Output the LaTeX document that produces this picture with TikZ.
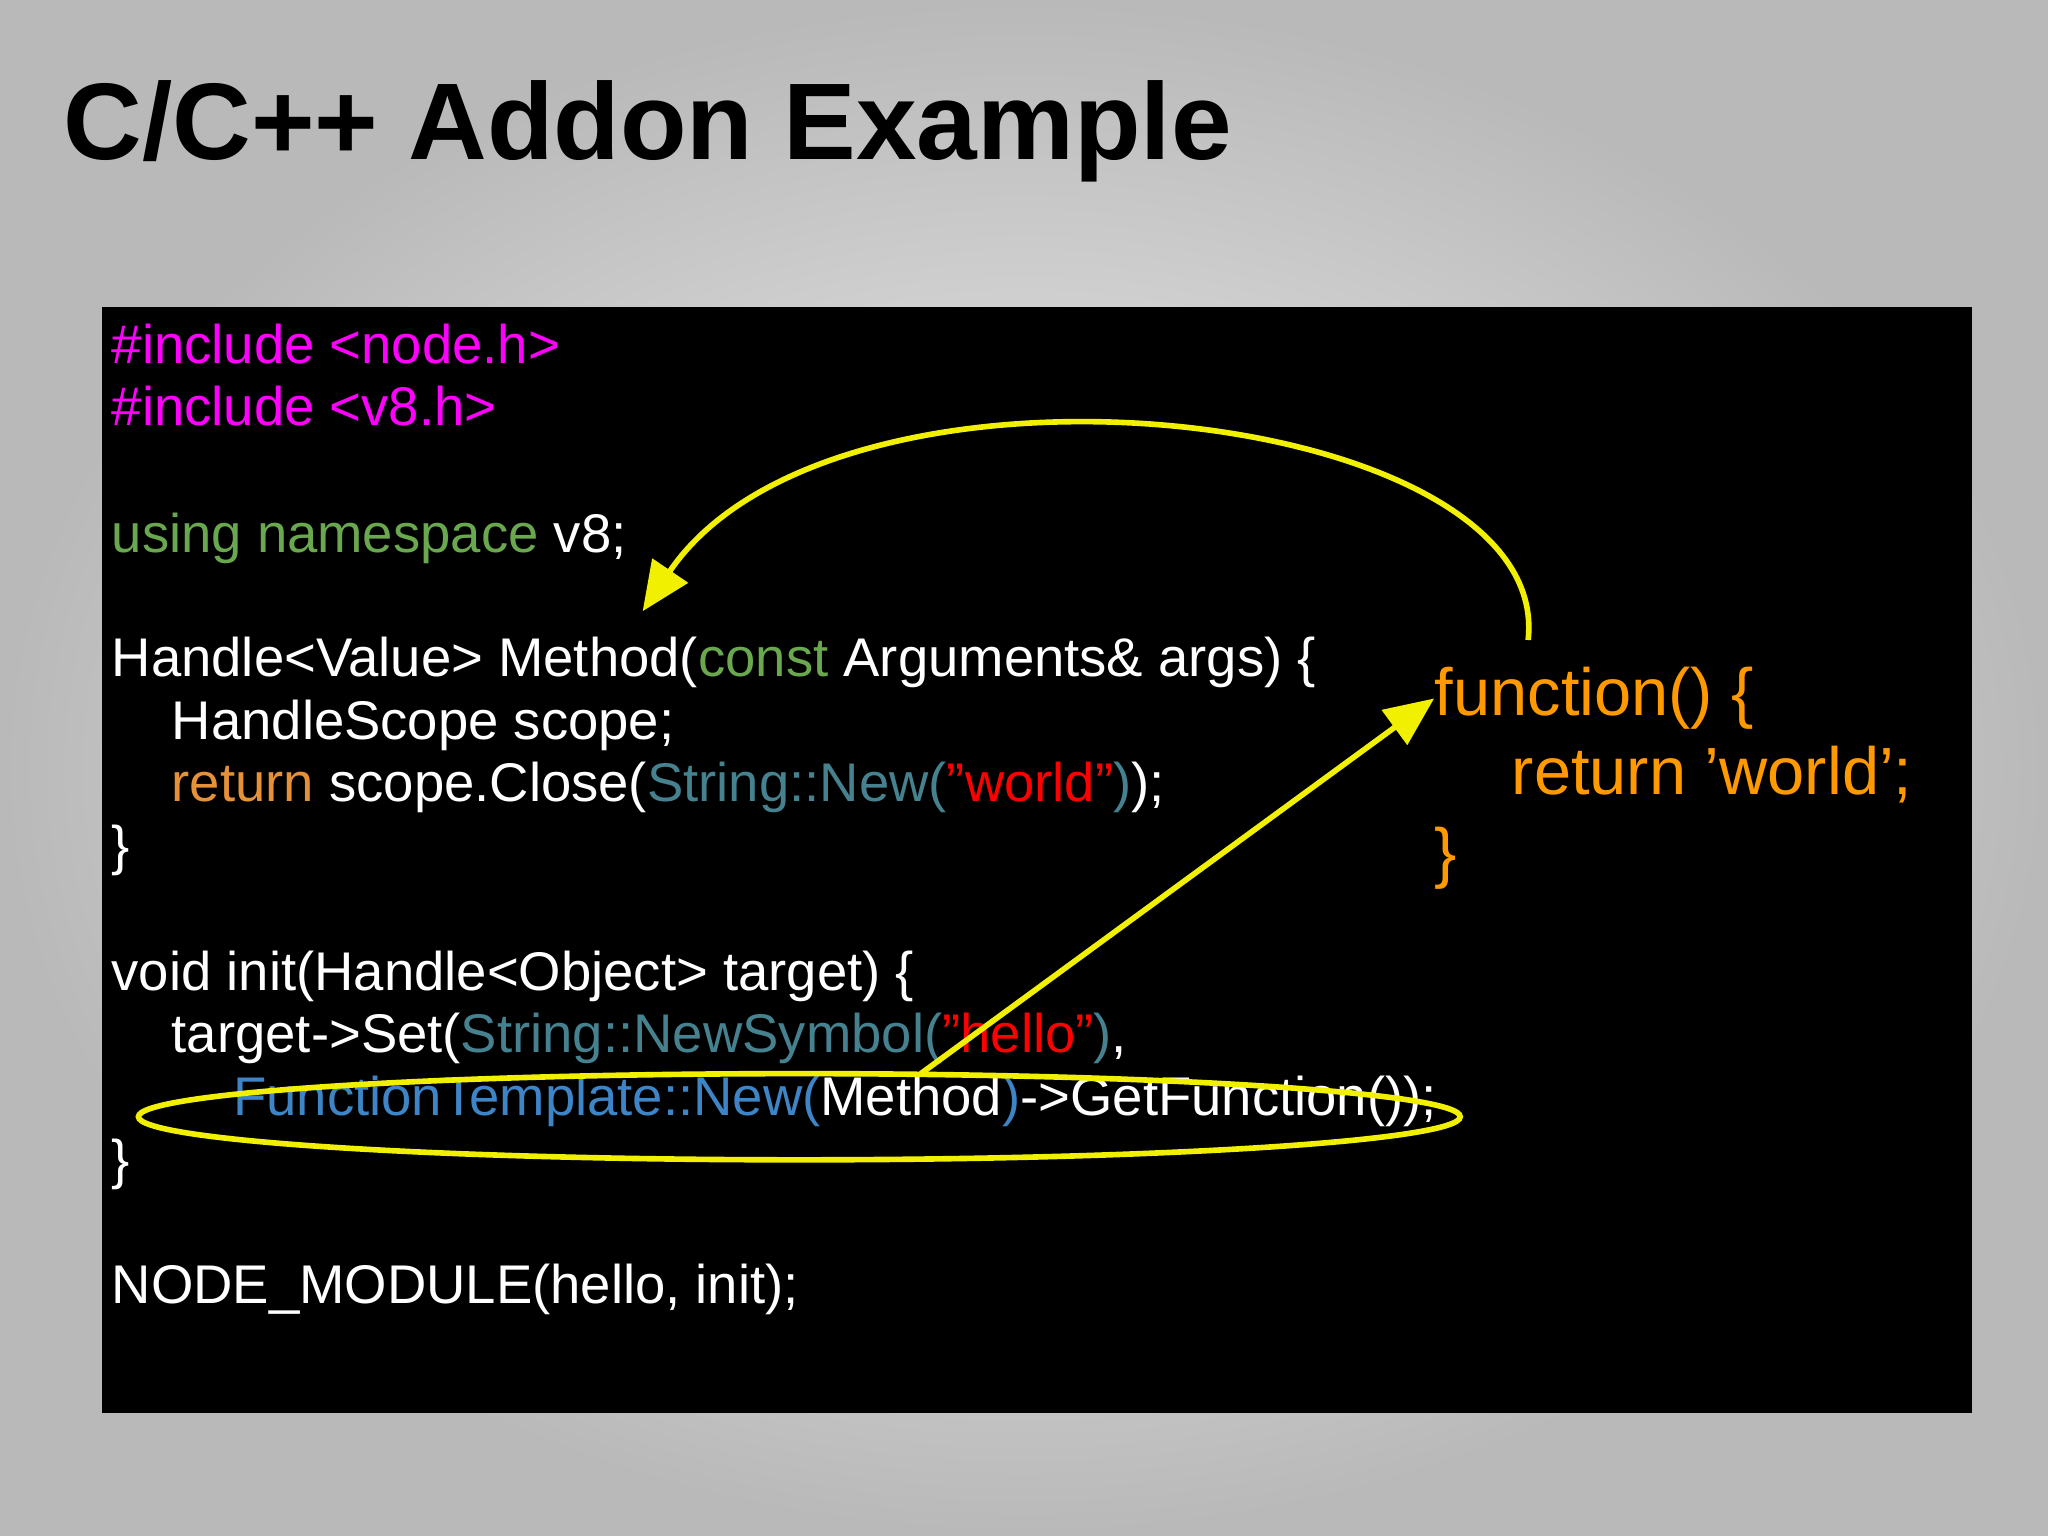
\documentclass[tikz,border=0pt]{standalone}
\usepackage{fontspec}
\setmainfont{Liberation Sans}
\usetikzlibrary{arrows.meta}
\definecolor{incl}{RGB}{255,0,255}
\definecolor{kwgreen}{RGB}{106,168,79}
\definecolor{kworange}{RGB}{230,145,56}
\definecolor{teal}{RGB}{69,129,142}
\definecolor{fnblue}{RGB}{61,133,198}
\definecolor{jsorange}{RGB}{255,153,0}
\definecolor{hiyellow}{RGB}{240,240,0}
\newcommand{\dq}{\symbol{34}}
\newcommand{\sq}{\symbol{39}}
\tikzset{
  codeline/.style={anchor=base west, inner sep=0pt, text=white, font=\fontsize{15.5}{18}\selectfont},
  jsline/.style={anchor=base west, inner sep=0pt, text=jsorange, font=\fontsize{19}{23}\selectfont},
  marker/.style={draw=hiyellow, line width=1.6pt}
}
\begin{document}
\begin{tikzpicture}[x=0.13061mm,y=-0.13061mm]
    % Slide background
    \shade[inner color=gray!10, outer color=gray!55] (0,0) rectangle (1568,1176);
    \useasboundingbox (0,0) rectangle (1568,1176);

    % Title
    \node[anchor=base west, inner sep=0pt, font=\fontsize{31}{37}\selectfont\bfseries] (title) at (48,122) {C/C++ Addon Example};

    % Code panel
    \fill[black] (78,235) rectangle (1510,1082);

    % C++ source
    \node[codeline] (inc1) at (85,278) {\textcolor{incl}{\#include <node.h>}};
    \node[codeline] (inc2) at (85,326) {\textcolor{incl}{\#include <v8.h>}};
    \node[codeline] (ns) at (85,423) {\textcolor{kwgreen}{using namespace} v8;};
    \node[codeline] (meth) at (85,518) {Handle<Value> Method(\textcolor{kwgreen}{const} Arguments\& args) \{};
    \node[codeline] (scope) at (131,566) {HandleScope scope;};
    \node[codeline] (ret) at (131,614) {\textcolor{kworange}{return} scope.Close(\textcolor{teal}{String::New(}\textcolor{red}{\dq world\dq}\textcolor{teal}{)});};
    \node[codeline] (close1) at (85,662) {\}};
    \node[codeline] (init) at (85,758) {void init(Handle<Object> target) \{};
    \node[codeline] (set) at (131,806) {target->Set(\textcolor{teal}{String::NewSymbol(}\textcolor{red}{\dq hello\dq}\textcolor{teal}{)},};
    \node[codeline] (tmpl) at (178,854) {\textcolor{fnblue}{FunctionTemplate::New(}Method\textcolor{fnblue}{)}->GetFunction());};
    \node[codeline] (close2) at (85,902) {\}};
    \node[codeline] (mod) at (85,998) {NODE\_MODULE(hello, init);};

    % JavaScript equivalent
    \node[jsline] (jsfn) at (1098,548) {function() \{};
    \node[jsline] (jsret) at (1157,608) {return \sq world\sq;};
    \node[jsline] (jsclose) at (1098,670) {\}};

    % Highlights
    \draw[marker] (612,855) ellipse [x radius=506, y radius=33];
    \coordinate (arcstart) at (1170,490);
    \coordinate (arcend) at (492,468);
    \coordinate (linestart) at (705,822);
    \draw[marker, -{Triangle[length=14pt,width=12pt]}] (arcstart) .. controls (1190,310) and (640,250) .. (arcend);
    \draw[marker, -{Triangle[length=14pt,width=12pt]}] (linestart) -- (jsfn.west);
\end{tikzpicture}
\end{document}
